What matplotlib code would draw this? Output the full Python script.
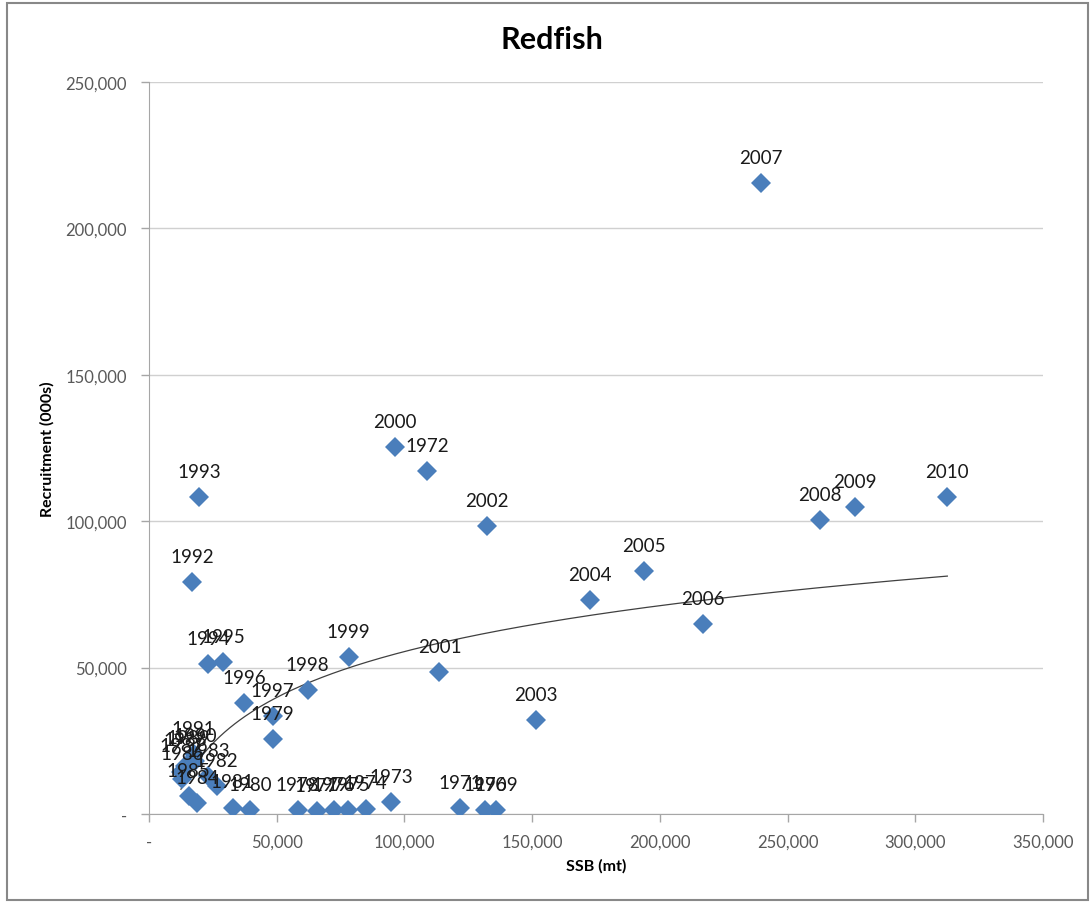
# Redfish stock-recruitment scatter with a log trendline

import numpy as np
import matplotlib.pyplot as plt
from matplotlib.patches import Rectangle
from matplotlib.ticker import FuncFormatter

years = [1969, 1970, 1971, 1972, 1973, 1974, 1975, 1976, 1977, 1978,
         1979, 1980, 1981, 1982, 1983, 1984, 1985, 1986, 1987, 1988,
         1989, 1990, 1991, 1992, 1993, 1994, 1995, 1996, 1997, 1998,
         1999, 2000, 2001, 2002, 2003, 2004, 2005, 2006, 2007, 2008,
         2009, 2010]
ssb = [136000, 131600, 121900, 109000, 94900, 84800, 78000, 72300, 65600, 58200,
       48400, 39500, 32800, 26500, 23000, 18800, 15500, 13000, 12500, 14000,
       15500, 18000, 17500, 16800, 19500, 23000, 28900, 37100, 48400, 62100,
       78100, 96100, 113700, 132400, 151600, 172600, 193700, 216800, 239400, 262500,
       276200, 312500]
recruits = [1300, 1400, 2000, 117100, 4100, 1800, 1300, 1300, 1000, 1200,
            25600, 1200, 2200, 9500, 13000, 3800, 6000, 12000, 14500, 16500,
            17500, 18000, 20500, 79200, 108300, 51200, 51900, 37900, 33500, 42300,
            53600, 125300, 48500, 98350, 32100, 73100, 83000, 64900, 215500, 100400,
            104800, 108300]

x = np.array(ssb, dtype=float)
y = np.array(recruits, dtype=float)

# logarithmic trendline (like excel's)
a, b = np.polyfit(np.log(x), y, 1)
xt = np.linspace(x.min(), x.max(), 300)
yt = a*np.log(xt) + b

plt.rcParams['font.family'] = ['Lato', 'DejaVu Sans']

fig = plt.figure(figsize=(10.9, 9.03), dpi=100)
ax = fig.add_axes([0.1367, 0.0975, 0.8203, 0.8105])

ax.plot(xt, yt, color='#404040', lw=0.9, zorder=2)
ax.plot(x, y, 'D', color='#4A7EBB', markersize=10.5, markeredgewidth=0, zorder=3)
for yr, xi, yi in zip(years, x, y):
    ax.annotate(str(yr), (xi, yi), xytext=(0, 18.5), textcoords='offset points',
                ha='center', va='center', fontsize=13.5, color='#1a1a1a', zorder=4)

ax.set_xlim(0, 350000)
ax.set_ylim(0, 250000)
ax.set_xticks(np.arange(0, 350001, 50000))
ax.set_yticks(np.arange(0, 250001, 50000))
fmt = FuncFormatter(lambda v, p: '-' if v == 0 else '{:,.0f}'.format(v))
ax.xaxis.set_major_formatter(fmt)
ax.yaxis.set_major_formatter(fmt)
ax.tick_params(colors='#A6A6A6', labelcolor='#595959', labelsize=12,
               length=6, width=1, direction='out')
ax.tick_params(axis='x', pad=8)
ax.tick_params(axis='y', pad=10)
ax.yaxis.grid(True, color='#D0D0D0', lw=1)
ax.set_axisbelow(True)
for s in ['top', 'right']:
    ax.spines[s].set_visible(False)
for s in ['left', 'bottom']:
    ax.spines[s].set_color('#A6A6A6')

ax.set_xlabel('SSB (mt)', fontsize=11.5, fontweight='bold', labelpad=6)
ax.set_ylabel('Recruitment (000s)', fontsize=11.5, fontweight='bold', labelpad=8)
fig.text(552/1090, 1 - 40/903, 'Redfish', fontsize=22, fontweight='bold',
         ha='center', va='center')

fig.patches.append(Rectangle((0.006, 0.002), 0.992, 0.994, transform=fig.transFigure,
                             fill=False, edgecolor='#888888', lw=1.5))

plt.savefig('out.png', dpi=100)
